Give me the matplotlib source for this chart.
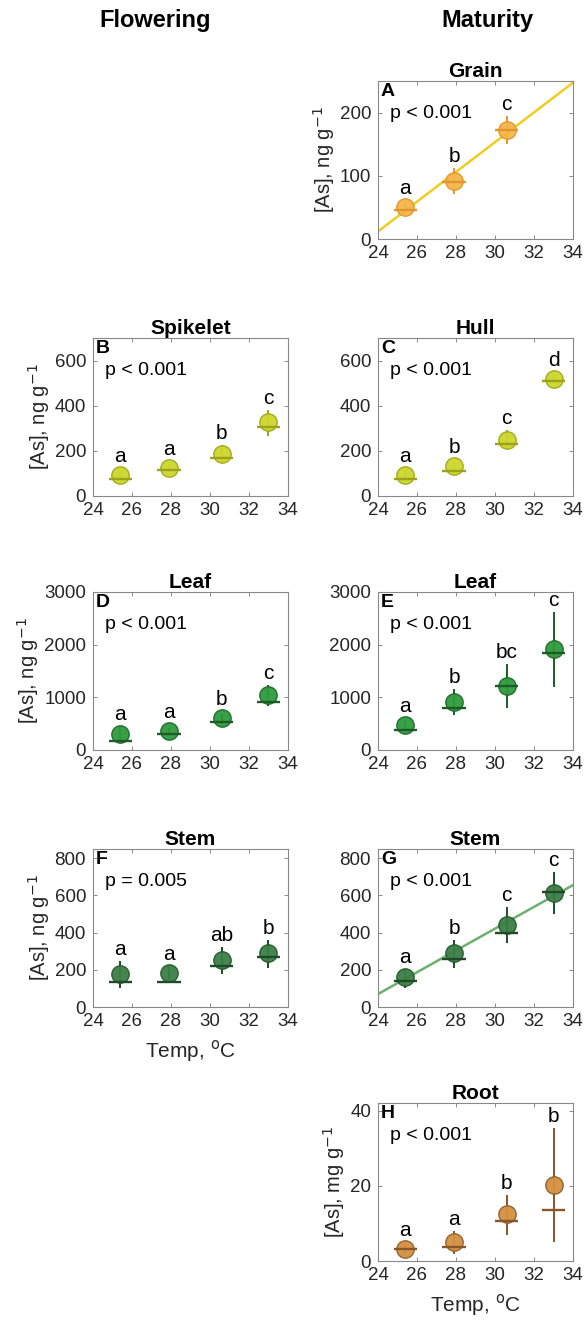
import numpy as np
import matplotlib
matplotlib.use("Agg")
import matplotlib.pyplot as plt

plt.rcParams['font.family'] = ['Liberation Sans', 'DejaVu Sans']

temps = [25.4, 27.9, 30.6, 33.0]

# Panel data: means (circles), medians (bars), error low/high, letters
grain_mean = [51, 92, 173]
grain_med = [46, 90, 172]
grain_lo = [40, 71, 151]
grain_hi = [58, 113, 195]
grain_let = ['a', 'b', 'c']

spk_mean = [92, 124, 187, 330]
spk_med = [76, 115, 169, 306]
spk_lo = [70, 108, 147, 265]
spk_hi = [112, 140, 228, 382]
spk_let = ['a', 'a', 'b', 'c']

hull_mean = [95, 132, 249, 519]
hull_med = [76, 112, 230, 508]
hull_lo = [68, 105, 213, 500]
hull_hi = [110, 150, 292, 540]
hull_let = ['a', 'b', 'c', 'd']

leafF_mean = [304, 354, 601, 1051]
leafF_med = [177, 304, 538, 905]
leafF_lo = [146, 280, 500, 842]
leafF_hi = [462, 420, 680, 1240]
leafF_let = ['a', 'a', 'b', 'c']

leafM_mean = [481, 918, 1222, 1918]
leafM_med = [386, 791, 1222, 1835]
leafM_lo = [360, 671, 797, 1203]
leafM_hi = [560, 1158, 1633, 2614]
leafM_let = ['a', 'b', 'bc', 'c']

stemF_mean = [175, 182, 254, 289]
stemF_med = [137, 137, 218, 268]
stemF_lo = [104, 150, 179, 209]
stemF_hi = [250, 215, 325, 362]
stemF_let = ['a', 'a', 'ab', 'b']

stemM_mean = [162, 291, 440, 611]
stemM_med = [138, 257, 396, 617]
stemM_lo = [104, 210, 342, 500]
stemM_hi = [207, 363, 540, 728]
stemM_let = ['a', 'b', 'c', 'c']

root_mean = [3.2, 5.0, 12.5, 20.1]
root_med = [3.2, 3.7, 10.7, 13.6]
root_lo = [2.0, 1.9, 6.8, 5.0]
root_hi = [4.5, 7.9, 17.5, 35.3]
root_let = ['a', 'a', 'b', 'b']

# colours
C_GRAIN = dict(face='#F6B54A', edge='#E0962A', bar='#E0962A', line='#F2CC1F')
C_SPK = dict(face='#CCD62C', edge='#A0A81A', bar='#9EA21A', line=None)
C_LEAF = dict(face='#2E9B3E', edge='#1E6A2A', bar='#1E5A26', line=None)
C_STEM = dict(face='#3B7E45', edge='#275A2F', bar='#1F4A26', line='#6DB06E')
C_ROOT = dict(face='#D4903F', edge='#8E5F30', bar='#8A5628', line=None)

W, H = 584, 1328
fig = plt.figure(figsize=(W / 100, H / 100), dpi=100)

AX_W, AX_H = 195, 158
LEFT_X = [93, 378]
TOPS = [81, 338, 592, 849, 1103]
FS = 13.5


def make_ax(col, row):
    l = LEFT_X[col] / W
    b = 1 - (TOPS[row] + AX_H) / H
    return fig.add_axes([l, b, AX_W / W, AX_H / H])


def panel(ax, n, mean, med, lo, hi, letters, col, ylim, yticks, title, tag, ptxt,
          ylabel=None, xlabel=False, fit=False):
    x = np.array(temps[:n])
    mean = np.array(mean, float)
    med = np.array(med, float)
    lo = np.array(lo, float)
    hi = np.array(hi, float)
    ax.set_xlim(24, 34)
    ax.set_ylim(*ylim)
    if fit:
        k, c0 = np.polyfit(x, mean, 1)
        xx = np.array([24, 34])
        ax.plot(xx, k * xx + c0, color=col['line'], lw=1.8, zorder=1, clip_on=True)
    ax.vlines(x, lo, hi, color=col['bar'], lw=1.4, zorder=2)
    ax.plot(x, mean, 'o', ms=12.5, mfc=col['face'], mec=col['edge'], mew=1.0,
            zorder=3, alpha=0.95)
    ax.hlines(med, x - 0.6, x + 0.6, color=col['bar'], lw=1.7, zorder=4)
    # letters
    fig.canvas.draw()
    for xi, m, h, let in zip(x, mean, hi, letters):
        pm = ax.transData.transform((xi, m))[1]
        ph = ax.transData.transform((xi, h))[1]
        top_px = max(pm + 9, ph + 2)
        ax.annotate(let, xy=(xi, m), xytext=(0, (top_px - pm) * 72 / 100),
                    textcoords='offset points', ha='center', va='bottom',
                    fontsize=15, color='black')
    ax.set_xticks([24, 26, 28, 30, 32, 34])
    ax.set_yticks(yticks)
    ax.tick_params(direction='in', top=True, right=True, length=3, width=0.6,
                   color='#777777', labelsize=FS, labelcolor='#262626')
    ax.tick_params(axis='y', pad=5)
    ax.tick_params(axis='x', pad=4)
    for s in ax.spines.values():
        s.set_color('#888888')
        s.set_linewidth(0.8)
    ax.set_title(title, fontsize=15, fontweight='bold', pad=3)
    ax.text(0.015, 0.99, tag, transform=ax.transAxes, ha='left', va='top',
            fontsize=14, fontweight='bold')
    ax.text(0.06, 0.85, ptxt, transform=ax.transAxes, ha='left', va='top',
            fontsize=14)
    if ylabel:
        ax.set_ylabel(ylabel, fontsize=14.5, color='#262626', labelpad=2)
    if xlabel:
        ax.set_xlabel('Temp, $^{\\mathrm{o}}$C', fontsize=15, color='#262626',
                      labelpad=6)


YL = '[As], ng g$^{-1}$'

axA = make_ax(1, 0)
panel(axA, 3, grain_mean, grain_med, grain_lo, grain_hi, grain_let, C_GRAIN,
      (0, 250), [0, 100, 200], 'Grain', 'A', 'p < 0.001', ylabel=YL, fit=True)

axB = make_ax(0, 1)
panel(axB, 4, spk_mean, spk_med, spk_lo, spk_hi, spk_let, C_SPK,
      (0, 700), [0, 200, 400, 600], 'Spikelet', 'B', 'p < 0.001', ylabel=YL)

axC = make_ax(1, 1)
panel(axC, 4, hull_mean, hull_med, hull_lo, hull_hi, hull_let, C_SPK,
      (0, 700), [0, 200, 400, 600], 'Hull', 'C', 'p < 0.001')

axD = make_ax(0, 2)
panel(axD, 4, leafF_mean, leafF_med, leafF_lo, leafF_hi, leafF_let, C_LEAF,
      (0, 3000), [0, 1000, 2000, 3000], 'Leaf', 'D', 'p < 0.001', ylabel=YL)

axE = make_ax(1, 2)
panel(axE, 4, leafM_mean, leafM_med, leafM_lo, leafM_hi, leafM_let, C_LEAF,
      (0, 3000), [0, 1000, 2000, 3000], 'Leaf', 'E', 'p < 0.001')

axF = make_ax(0, 3)
panel(axF, 4, stemF_mean, stemF_med, stemF_lo, stemF_hi, stemF_let, C_STEM,
      (0, 850), [0, 200, 400, 600, 800], 'Stem', 'F', 'p = 0.005', ylabel=YL,
      xlabel=True)

axG = make_ax(1, 3)
panel(axG, 4, stemM_mean, stemM_med, stemM_lo, stemM_hi, stemM_let, C_STEM,
      (0, 850), [0, 200, 400, 600, 800], 'Stem', 'G', 'p < 0.001', fit=True)

axH = make_ax(1, 4)
panel(axH, 4, root_mean, root_med, root_lo, root_hi, root_let, C_ROOT,
      (0, 42), [0, 20, 40], 'Root', 'H', 'p < 0.001',
      ylabel='[As], mg g$^{-1}$', xlabel=True)

fig.text(155 / W, 1 - 20 / H, 'Flowering', ha='center', va='center',
         fontsize=17, fontweight='bold')
fig.text(487 / W, 1 - 20 / H, 'Maturity', ha='center', va='center',
         fontsize=17, fontweight='bold')

fig.savefig('out.png', dpi=100)
